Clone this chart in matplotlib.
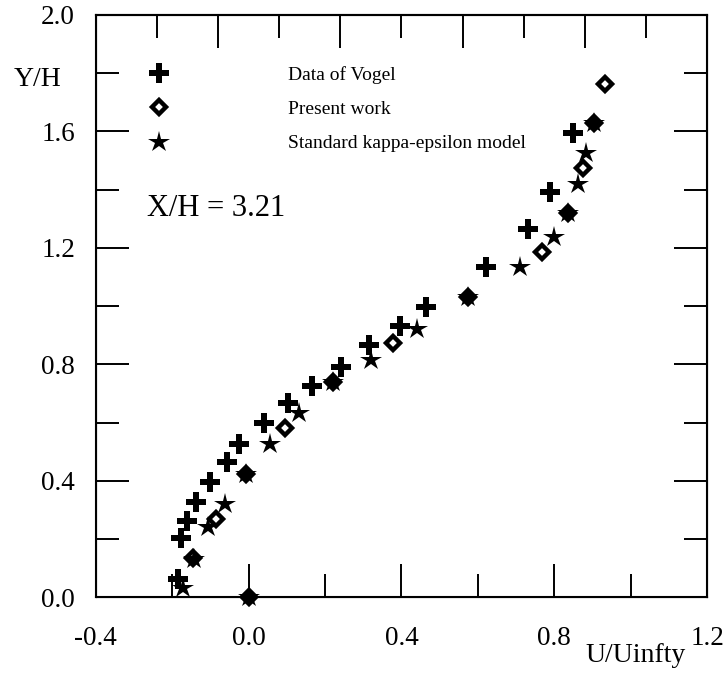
import matplotlib
matplotlib.use('Agg')
import matplotlib.pyplot as plt

# velocity profile at X/H = 3.21
vogel_u = [-0.185, -0.178, -0.161, -0.138, -0.101, -0.056, -0.026, 0.040, 0.104,
           0.167, 0.243, 0.316, 0.396, 0.463, 0.620, 0.732, 0.789, 0.848]
vogel_y = [0.061, 0.202, 0.262, 0.327, 0.396, 0.465, 0.526, 0.599, 0.666,
           0.725, 0.791, 0.866, 0.931, 0.998, 1.133, 1.264, 1.393, 1.596]

present_u = [0.0, -0.145, -0.086, -0.007, 0.095, 0.220, 0.378, 0.575, 0.767,
             0.837, 0.876, 0.904, 0.933]
present_y = [0.0, 0.136, 0.270, 0.425, 0.582, 0.740, 0.872, 1.032, 1.187,
             1.319, 1.473, 1.630, 1.763]

keps_u = [0.0, -0.171, -0.143, -0.106, -0.062, -0.007, 0.056, 0.132, 0.220,
          0.320, 0.440, 0.575, 0.710, 0.799, 0.837, 0.863, 0.883, 0.904]
keps_y = [0.0, 0.033, 0.133, 0.242, 0.320, 0.425, 0.528, 0.633, 0.740,
          0.814, 0.923, 1.032, 1.133, 1.238, 1.319, 1.419, 1.527, 1.630]

labels = ['Data of Vogel', 'Present work', 'Standard kappa-epsilon model']

x_major = [-0.4, 0.0, 0.4, 0.8, 1.2]
x_minor = [-0.2, 0.2, 0.6, 1.0]
y_major = [0.0, 0.4, 0.8, 1.2, 1.6, 2.0]
y_minor = [0.2, 0.6, 1.0, 1.4, 1.8]
# the top axis of the original has its own odd tick spacing (range / 10)
top_major = [-0.08, 0.24, 0.56, 0.88]
top_minor = [-0.24, 0.08, 0.40, 0.72, 1.04]

plt.rcParams['font.family'] = ['Liberation Serif', 'DejaVu Serif']

fig = plt.figure(figsize=(7.26, 6.81), dpi=100)
ax = fig.add_axes([0.132, 0.123, 0.842, 0.855])

ax.plot(vogel_u, vogel_y, ls='none', marker='P', ms=14, color='black',
        mec='black', mew=0, clip_on=False, label=labels[0])
ax.plot(present_u, present_y, ls='none', marker='D', ms=7.5, mfc='none',
        mec='black', mew=3.2, clip_on=False, label=labels[1])
ax.plot(keps_u, keps_y, ls='none', marker='*', ms=16, color='black',
        mew=0, clip_on=False, label=labels[2])

ax.set_xlim(-0.4, 1.2)
ax.set_ylim(0.0, 2.0)
ax.set_xticks(x_major)
ax.set_xticks(x_minor, minor=True)
ax.set_yticks(y_major)
ax.set_yticks(y_minor, minor=True)
ax.set_xticklabels(['%.1f' % v for v in x_major])
ax.set_yticklabels(['%.1f' % v for v in y_major])

for s in ax.spines.values():
    s.set_linewidth(1.5)

ax.tick_params(axis='both', which='both', direction='in', width=1.4,
               labelsize=19.5, top=False, right=True)
ax.tick_params(axis='both', which='major', length=24)
ax.tick_params(axis='both', which='minor', length=16.5)
ax.tick_params(axis='x', which='major', pad=21)
ax.tick_params(axis='y', which='major', pad=15)

top = ax.twiny()
top.set_xlim(-0.4, 1.2)
top.set_xticks(top_major)
top.set_xticks(top_minor, minor=True)
top.tick_params(axis='x', which='both', direction='in', width=1.4,
                labeltop=False, top=True)
top.tick_params(axis='x', which='major', length=24)
top.tick_params(axis='x', which='minor', length=16.5)
top.spines['top'].set_linewidth(1.5)

fig.text(14 / 726, 1 - 80 / 681, 'Y/H', fontsize=20, ha='left', va='center')
fig.text(636 / 726, 1 - 655 / 681, 'U/Uinfty', fontsize=20, ha='center',
         va='center')
ax.text(0.083, 0.667, 'X/H = 3.21', transform=ax.transAxes, fontsize=22,
        ha='left', va='center')

ax.legend(loc='upper left', bbox_to_anchor=(0.088, 0.912), frameon=False,
          fontsize=14, handlelength=1.0, handletextpad=6.1, labelspacing=0.85,
          borderpad=0, borderaxespad=0, numpoints=1)

fig.savefig('out.png', dpi=100)
